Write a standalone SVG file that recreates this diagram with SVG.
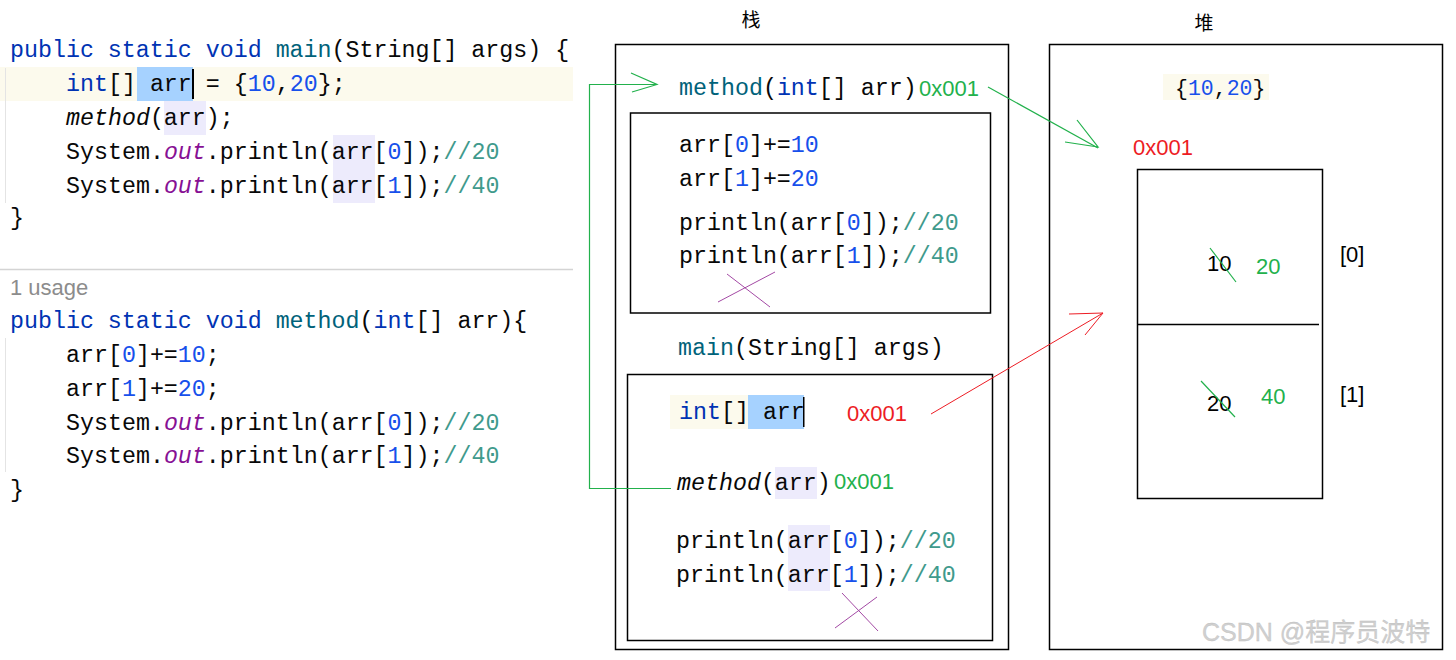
<svg xmlns="http://www.w3.org/2000/svg" width="1456" height="660" viewBox="0 0 1456 660">
<style>
.c{font-family:"Liberation Mono","Courier New",monospace;font-size:23.3px;fill:#080808;white-space:pre}
.kw{fill:#0033B3}
.fn{fill:#00627A}
.num{fill:#1750EB}
.cm{fill:#3f9a8c}
.out{fill:#871094;font-style:italic}
.it{font-style:italic}
.s{font-family:"Liberation Sans",Arial,sans-serif;font-size:22px}
.g{fill:#22B14C}
.r{fill:#ED1C24}
.box{fill:none;stroke:#000;stroke-width:1.5}
.line{fill:#FCFAED}
.sel{fill:#A6D2FF}
.use{fill:#EDEBFC}
.gl{stroke:#22B14C;stroke-width:1.2;fill:none}
.rl{stroke:#ED1C24;stroke-width:1;fill:none}
.pl{stroke:#A349A4;stroke-width:1;fill:none}
.zh{font-family:"Noto Sans CJK SC","Noto Sans",sans-serif;font-size:19px;fill:#000}
</style>
<rect width="1456" height="660" fill="#fff"/>

<g id="code-main">
<rect class="line" x="0" y="67" width="573" height="34"/>
<rect class="sel" x="137" y="67" width="56" height="34"/>
<rect x="192" y="69" width="2" height="30" fill="#000"/>
<rect class="use" x="164" y="101" width="42" height="34"/>
<rect class="use" x="333" y="135" width="42" height="68"/>
<line x1="5.5" y1="68" x2="5.5" y2="203" stroke="#e4e4e4" stroke-width="1"/>
<text class="c" x="10" y="57"><tspan class="kw">public static void </tspan><tspan class="fn">main</tspan>(String[] args) {</text>
<text class="c" x="66" y="91"><tspan class="kw">int</tspan>[] arr = {<tspan class="num">10</tspan>,<tspan class="num">20</tspan>};</text>
<text class="c" x="66" y="125"><tspan class="it">method</tspan>(arr);</text>
<text class="c" x="66" y="159">System.<tspan class="out">out</tspan>.println(arr[<tspan class="num">0</tspan>]);<tspan class="cm">//20</tspan></text>
<text class="c" x="66" y="193">System.<tspan class="out">out</tspan>.println(arr[<tspan class="num">1</tspan>]);<tspan class="cm">//40</tspan></text>
<text class="c" x="10" y="225">}</text>
</g>

<line x1="0" y1="269.5" x2="573" y2="269.5" stroke="#d4d4d4" stroke-width="1.5"/>

<g id="code-method">
<text x="10" y="295" font-family="Liberation Sans,Arial,sans-serif" font-size="22" fill="#8c8c8c">1 usage</text>
<line x1="5.5" y1="338" x2="5.5" y2="472" stroke="#e4e4e4" stroke-width="1"/>
<text class="c" x="10" y="328"><tspan class="kw">public static void </tspan><tspan class="fn">method</tspan>(<tspan class="kw">int</tspan>[] arr){</text>
<text class="c" x="66" y="362">arr[<tspan class="num">0</tspan>]+=<tspan class="num">10</tspan>;</text>
<text class="c" x="66" y="396">arr[<tspan class="num">1</tspan>]+=<tspan class="num">20</tspan>;</text>
<text class="c" x="66" y="430">System.<tspan class="out">out</tspan>.println(arr[<tspan class="num">0</tspan>]);<tspan class="cm">//20</tspan></text>
<text class="c" x="66" y="463">System.<tspan class="out">out</tspan>.println(arr[<tspan class="num">1</tspan>]);<tspan class="cm">//40</tspan></text>
<text class="c" x="10" y="497">}</text>
</g>

<g id="stack">
<text class="zh" x="751" y="27" text-anchor="middle">栈</text>
<rect class="box" x="615.5" y="44.5" width="393" height="605"/>
<text class="c" x="679" y="95"><tspan class="fn">method</tspan>(<tspan class="kw">int</tspan>[] arr)</text>
<text class="s g" x="919" y="96">0x001</text>
</g>

<g id="frame-method">
<rect class="box" x="630.5" y="113" width="360" height="200"/>
<text class="c" x="679" y="152">arr[<tspan class="num">0</tspan>]+=<tspan class="num">10</tspan></text>
<text class="c" x="679" y="186">arr[<tspan class="num">1</tspan>]+=<tspan class="num">20</tspan></text>
<text class="c" x="679" y="230">println(arr[<tspan class="num">0</tspan>]);<tspan class="cm">//20</tspan></text>
<text class="c" x="679" y="263">println(arr[<tspan class="num">1</tspan>]);<tspan class="cm">//40</tspan></text>
<line class="pl" x1="727" y1="274" x2="770" y2="307"/>
<line class="pl" x1="718" y1="302" x2="775" y2="272"/>
</g>

<g id="frame-main">
<text class="c" x="678" y="355"><tspan class="fn">main</tspan>(String[] args)</text>
<rect class="box" x="627.5" y="374.5" width="365" height="266"/>
<rect class="line" x="670" y="395" width="78" height="34"/>
<rect class="sel" x="748" y="395" width="56" height="34"/>
<rect x="803" y="397" width="1.5" height="30" fill="#000"/>
<text class="c" x="679" y="419"><tspan class="kw">int</tspan>[] arr</text>
<text class="s r" x="847" y="421">0x001</text>
<rect class="use" x="775" y="467" width="42" height="32"/>
<text class="c" x="677" y="490"><tspan class="it">method</tspan>(arr)</text>
<text class="s g" x="834" y="489">0x001</text>
<rect class="use" x="788" y="525" width="42" height="66"/>
<text class="c" x="676" y="548">println(arr[<tspan class="num">0</tspan>]);<tspan class="cm">//20</tspan></text>
<text class="c" x="676" y="582">println(arr[<tspan class="num">1</tspan>]);<tspan class="cm">//40</tspan></text>
<line class="pl" x1="842" y1="593" x2="878" y2="631"/>
<line class="pl" x1="835" y1="628" x2="877" y2="597"/>
</g>

<g id="heap">
<text class="zh" x="1204" y="30" text-anchor="middle">堆</text>
<rect class="box" x="1049.5" y="44.5" width="393" height="605"/>
<rect class="line" x="1163" y="74" width="106" height="26"/>
<text class="c" x="1175" y="95" style="font-size:21.5px">{<tspan class="num">10</tspan>,<tspan class="num">20</tspan>}</text>
<text class="s r" x="1133" y="155">0x001</text>
</g>

<g id="array">
<rect class="box" x="1137.5" y="169.5" width="185" height="329"/>
<line x1="1137" y1="324.5" x2="1319" y2="324.5" stroke="#000" stroke-width="1.5"/>
<text class="s" x="1207" y="271" fill="#000">10</text>
<text class="s g" x="1256" y="274">20</text>
<text class="s" x="1207" y="411" fill="#000">20</text>
<text class="s g" x="1261" y="404">40</text>
<line class="gl" x1="1210" y1="248" x2="1236" y2="282" stroke-width="0.9"/>
<line class="gl" x1="1201" y1="381" x2="1235" y2="417" stroke-width="0.9"/>
<text class="s" x="1340" y="262" fill="#000" font-size="20">[0]</text>
<text class="s" x="1340" y="402" fill="#000" font-size="20">[1]</text>
</g>

<g id="connectors">
<polyline class="gl" points="671,488.5 589.5,488.5 589.5,84.5 657,84.5"/>
<polyline class="gl" points="631,73 657,84.5 632,92"/>
<line class="gl" x1="988" y1="87" x2="1098" y2="148" stroke-width="1"/>
<polyline class="gl" points="1077,120 1098,147 1065,142" stroke-width="1"/>
<line class="rl" x1="931" y1="414" x2="1103" y2="313"/>
<polyline class="rl" points="1069,314 1103,313 1085,335"/>
</g>

<text x="1202" y="641" font-family="Liberation Sans,'Noto Sans CJK SC',sans-serif" font-size="25" fill="#d0d0d0" stroke="#bdbdbd" stroke-width="0.3">CSDN @程序员波特</text>
</svg>
